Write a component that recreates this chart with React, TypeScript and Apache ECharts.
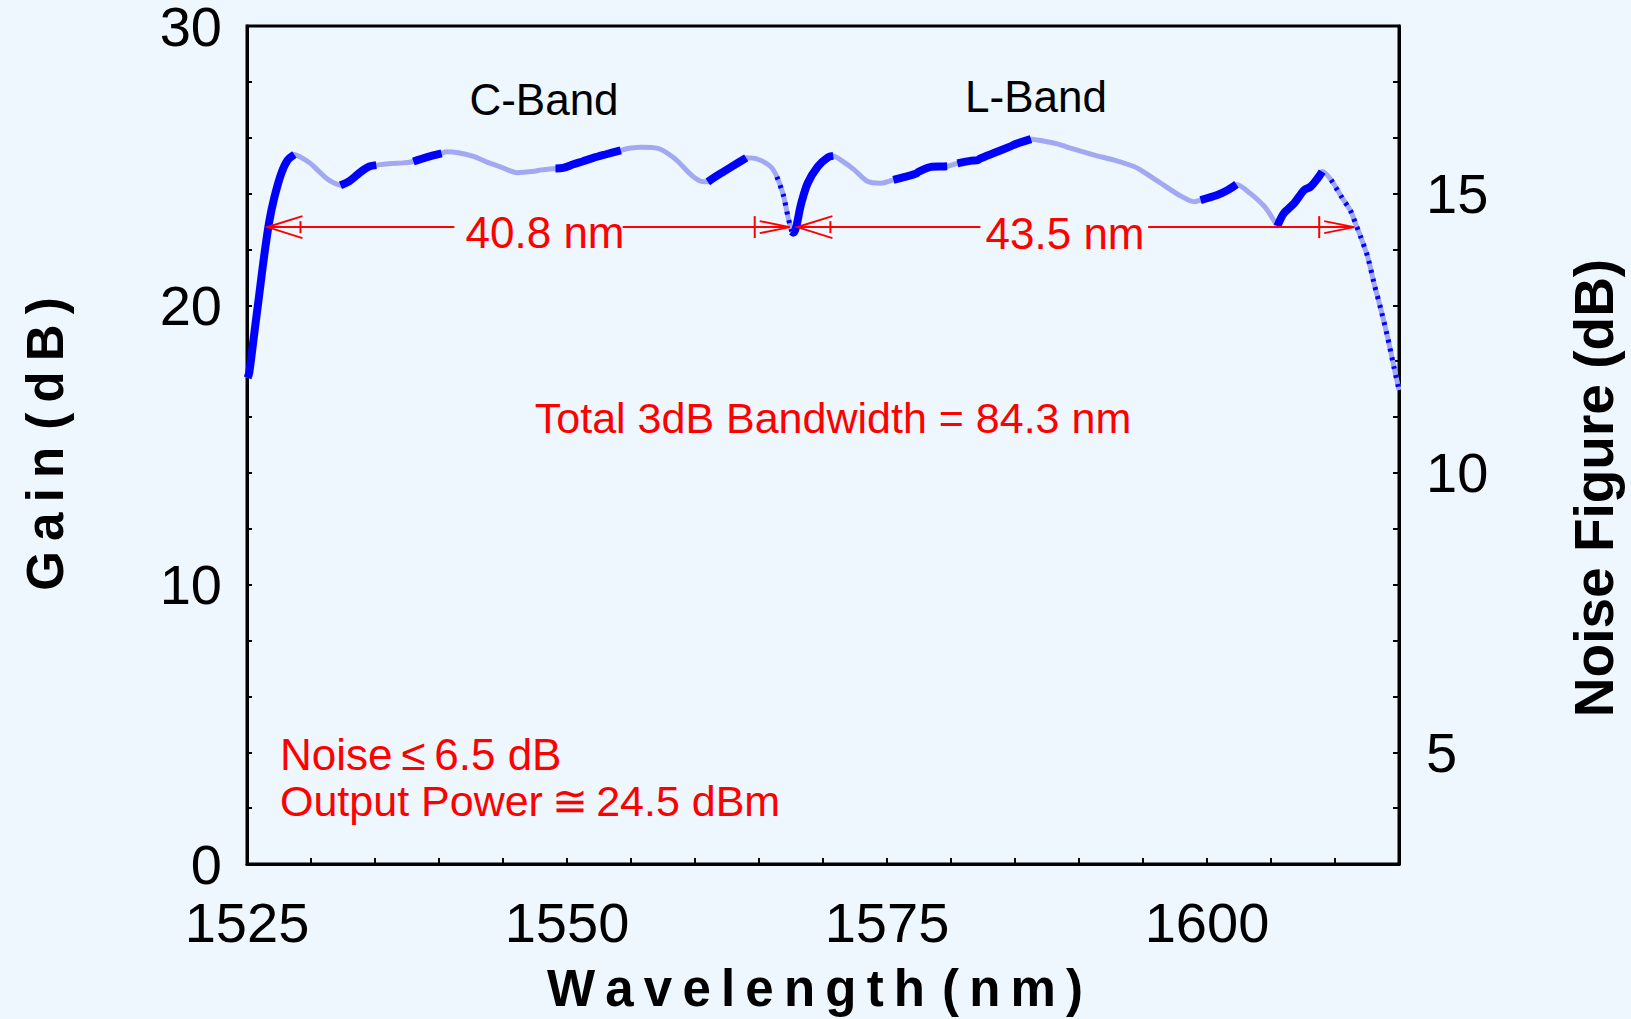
import React, { useEffect, useRef } from 'react';
import * as echarts from 'echarts';

// Gain curve (wavelength in nm, gain in dB)
const wavelength = [
  1525.05, 1525.18, 1525.57, 1525.96, 1526.35, 1526.74, 1527.13, 1527.66, 1528.18, 1528.7,
  1529.2, 1529.9, 1530.5, 1531.2, 1531.8, 1532.3, 1533.0, 1533.6, 1534.1, 1534.55,
  1535.1, 1536.25, 1537.2, 1538.0, 1539.0, 1540.2, 1540.6, 1541.5, 1542.75, 1543.8,
  1544.8, 1546.1, 1547.45, 1548.0, 1549.1, 1549.7, 1550.5, 1551.2, 1552.0, 1553.0,
  1554.2, 1555.0, 1555.8, 1557.1, 1558.4, 1559.7, 1560.4, 1561.0, 1562.0, 1563.0,
  1564.0, 1564.9, 1565.9, 1566.4, 1566.9, 1567.25, 1567.55, 1567.7, 1568.3, 1568.8,
  1569.6, 1570.4, 1570.8, 1571.4, 1572.45, 1573.5, 1574.5, 1575.5, 1576.4, 1577.3,
  1577.45, 1578.5, 1579.3, 1579.7, 1580.1, 1580.5, 1581.6, 1582.1, 1582.3, 1583.5,
  1584.7, 1585.1, 1586.25, 1587.0, 1588.3, 1589.6, 1591.2, 1592.75, 1594.3, 1594.8,
  1596.4, 1598.0, 1599.0, 1599.5, 1600.8, 1601.6, 1602.3, 1603.4, 1604.5, 1605.3,
  1605.5, 1606.0, 1606.8, 1607.6, 1608.1, 1608.65, 1609.0, 1609.7, 1610.5, 1611.25,
  1611.6, 1612.0, 1612.55, 1613.05, 1613.6, 1614.1, 1614.6, 1615.0,
];
const gain = [
  17.4, 17.6, 19.0, 20.4, 21.8, 23.0, 23.85, 24.7, 25.2, 25.4,
  25.3, 25.1, 24.85, 24.55, 24.38, 24.3, 24.45, 24.67, 24.85, 24.97,
  25.02, 25.08, 25.1, 25.15, 25.3, 25.44, 25.5, 25.46, 25.32, 25.12,
  24.96, 24.75, 24.8, 24.85, 24.9, 24.92, 25.05, 25.15, 25.27, 25.4,
  25.55, 25.63, 25.66, 25.62, 25.26, 24.67, 24.45, 24.42, 24.72, 25.0,
  25.28, 25.23, 24.97, 24.6, 23.95, 23.2, 22.65, 22.6, 23.65, 24.37,
  24.97, 25.3, 25.35, 25.2, 24.85, 24.43, 24.37, 24.49, 24.6, 24.72,
  24.78, 24.96, 24.97, 24.98, 25.03, 25.08, 25.18, 25.2, 25.26, 25.48,
  25.7, 25.78, 25.95, 25.9, 25.78, 25.59, 25.38, 25.2, 24.97, 24.85,
  24.37, 23.9, 23.71, 23.77, 23.95, 24.12, 24.33, 24.0, 23.53, 22.99,
  22.84, 23.29, 23.65, 24.13, 24.25, 24.55, 24.79, 24.49, 23.89, 23.35,
  22.93, 22.46, 21.74, 20.79, 19.83, 18.88, 17.8, 16.97,
];
// wavelength ranges drawn as thick dark trace
const darkRanges = [
  [1525.0, 1528.7], [1532.3, 1535.1], [1538.0, 1540.2], [1549.1, 1554.2],
  [1561.0, 1564.0], [1567.55, 1570.8], [1575.5, 1578.5], [1579.3, 1579.7],
  [1580.5, 1586.25], [1599.5, 1602.3], [1605.5, 1609.0],
];
// wavelength ranges drawn as dark dashed trace
const dashRanges = [[1566.4, 1567.55], [1609.7, 1615.0]];
// 3 dB bandwidth arrows: [left tip, right tip, gain level, gap start, gap end]
const bandArrows = [
  [1526.6, 1567.4, 22.8, 1541.2, 1554.35],
  [1568.0, 1611.5, 22.8, 1582.3, 1595.4],
];
const xLabelValues = [1525, 1550, 1575, 1600];
const gainLabelValues = [0, 10, 20, 30];
const nfLabelValues = [5, 10, 15];

const FONT = "'Liberation Sans', Arial, Helvetica, sans-serif";
const TS = '\u2009';
const spaced = (s: string) => s.split(' ').map((w) => w.split('').join(TS)).join('\u2004');

const inRanges = (w: number, ranges: number[][]) => ranges.some(([a, b]) => w >= a - 1e-9 && w <= b + 1e-9);

export default function App() {
  const ref = useRef<HTMLDivElement>(null);
  useEffect(() => {
    if (!ref.current) return;
    const chart = echarts.init(ref.current, undefined, { renderer: 'svg' });
    const full = wavelength.map((w, i) => [w, gain[i]]);
    const dark = wavelength.map((w, i) => (inRanges(w, darkRanges) ? [w, gain[i]] : [w, '-']));
    const dashed = wavelength.map((w, i) => (inRanges(w, dashRanges) ? [w, gain[i]] : [w, '-']));
    const labelStyle = { fontFamily: FONT, fontSize: 56, color: '#000' };
    const red = '#ff0000';
    chart.setOption({
      animation: false,
      backgroundColor: '#EEF6FE',
      grid: {
        left: 247, right: 232, top: 26, bottom: 155,
        show: true, borderColor: '#000', borderWidth: 3,
        outerBoundsMode: 'none',
      },
      xAxis: {
        type: 'value', min: 1525, max: 1615, interval: 5,
        axisLine: { show: true, lineStyle: { color: '#000', width: 3 } },
        axisTick: { show: true, inside: true, length: 6, lineStyle: { color: '#000', width: 2 } },
        splitLine: { show: false },
        axisLabel: {
          ...labelStyle, margin: 30,
          formatter: (v: number) => (xLabelValues.includes(Math.round(v)) ? String(Math.round(v)) : ''),
        },
      },
      yAxis: [
        {
          type: 'value', min: 0, max: 30, interval: 2, position: 'left',
          axisLine: { show: true, lineStyle: { color: '#000', width: 3 } },
          axisTick: { show: true, inside: true, length: 5, lineStyle: { color: '#000', width: 2 } },
          splitLine: { show: false },
          axisLabel: {
            ...labelStyle, margin: 25, lineHeight: 40, padding: [14, 0, 0, 0],
            formatter: (v: number) => (gainLabelValues.includes(Math.round(v)) ? String(Math.round(v)) : ''),
          },
        },
        {
          type: 'value', min: 3, max: 18, interval: 1, position: 'right',
          axisLine: { show: true, lineStyle: { color: '#000', width: 3 } },
          axisTick: { show: true, inside: true, length: 6, lineStyle: { color: '#000', width: 2 } },
          splitLine: { show: false },
          axisLabel: {
            ...labelStyle, margin: 27, lineHeight: 40, padding: [12, 0, 0, 0],
            formatter: (v: number) => (nfLabelValues.includes(Math.round(v)) ? String(Math.round(v)) : ''),
          },
        },
      ],
      series: [
        {
          type: 'line', data: full, symbol: 'none', smooth: 0.3,
          lineStyle: { color: '#A2A9F2', width: 5 }, z: 2,
        },
        {
          type: 'line', data: dark, symbol: 'none', smooth: 0.3, connectNulls: false,
          lineStyle: { color: '#0000FF', width: 8, cap: 'butt' }, z: 3,
        },
        {
          type: 'line', data: dashed, symbol: 'none', smooth: 0.3, connectNulls: false,
          lineStyle: { color: '#0000FF', width: 5, type: [3, 6], cap: 'butt' }, z: 3,
        },
        {
          type: 'custom', data: bandArrows, z: 5,
          encode: { x: [0, 1, 3, 4], y: 2 },
          renderItem: (_params: any, api: any) => {
            const g = api.value(2);
            const L = api.coord([api.value(0), g]);
            const R = api.coord([api.value(1), g]);
            const g1 = api.coord([api.value(3), g]);
            const g2 = api.coord([api.value(4), g]);
            const y = L[1];
            const st = { stroke: red, lineWidth: 2, fill: 'none' };
            return {
              type: 'group',
              children: [
                { type: 'line', shape: { x1: L[0], y1: y, x2: g1[0], y2: y }, style: st },
                { type: 'line', shape: { x1: g2[0], y1: y, x2: R[0], y2: y }, style: st },
                { type: 'polyline', shape: { points: [[L[0] + 35, y - 11], [L[0], y], [L[0] + 35, y + 11]] }, style: st },
                { type: 'line', shape: { x1: L[0] + 33, y1: y - 6, x2: L[0] + 33, y2: y + 6 }, style: st },
                { type: 'polyline', shape: { points: [[R[0] - 30, y - 6], [R[0], y], [R[0] - 30, y + 6]] }, style: st },
                { type: 'line', shape: { x1: R[0] - 35, y1: y - 11, x2: R[0] - 35, y2: y + 11 }, style: st },
              ],
            };
          },
        },
      ],
      graphic: [
        { type: 'text', x: 544, y: 99, style: { text: 'C-Band', font: `44px ${FONT}`, fill: '#000', align: 'center', verticalAlign: 'middle' } },
        { type: 'text', x: 1036, y: 96, style: { text: 'L-Band', font: `44px ${FONT}`, fill: '#000', align: 'center', verticalAlign: 'middle' } },
        { type: 'text', x: 545, y: 232, style: { text: '40.8 nm', font: `44px ${FONT}`, fill: red, align: 'center', verticalAlign: 'middle' } },
        { type: 'text', x: 1065, y: 233, style: { text: '43.5 nm', font: `44px ${FONT}`, fill: red, align: 'center', verticalAlign: 'middle' } },
        { type: 'text', x: 833, y: 418, style: { text: 'Total 3dB Bandwidth = 84.3 nm', font: `43px ${FONT}`, fill: red, align: 'center', verticalAlign: 'middle' } },
        { type: 'text', x: 280, y: 754, style: { text: 'Noise\u2009\u2264\u20096.5 dB', font: `44px ${FONT}`, fill: red, align: 'left', verticalAlign: 'middle' } },
        { type: 'text', x: 280, y: 801, style: { text: 'Output Power\u2009\u2245\u200924.5 dBm', font: `43px ${FONT}`, fill: red, align: 'left', verticalAlign: 'middle' } },
        { type: 'text', x: 45, y: 444, rotation: Math.PI / 2, style: { text: spaced('Gain (dB)'), font: `bold 51px ${FONT}`, fill: '#000', align: 'center', verticalAlign: 'middle' } },
        { type: 'text', x: 1594, y: 488, rotation: Math.PI / 2, style: { text: 'Noise Figure (dB)', font: `bold 55px ${FONT}`, fill: '#000', align: 'center', verticalAlign: 'middle' } },
        { type: 'text', x: 815, y: 988, style: { text: spaced('Wavelength (nm)'), font: `bold 51px ${FONT}`, fill: '#000', align: 'center', verticalAlign: 'middle' } },
      ],
    });
    return () => chart.dispose();
  }, []);
  return (
    <div
      ref={ref}
      style={{ position: 'absolute', left: 0, top: 0, width: 1631, height: 1019 }}
    />
  );
}
